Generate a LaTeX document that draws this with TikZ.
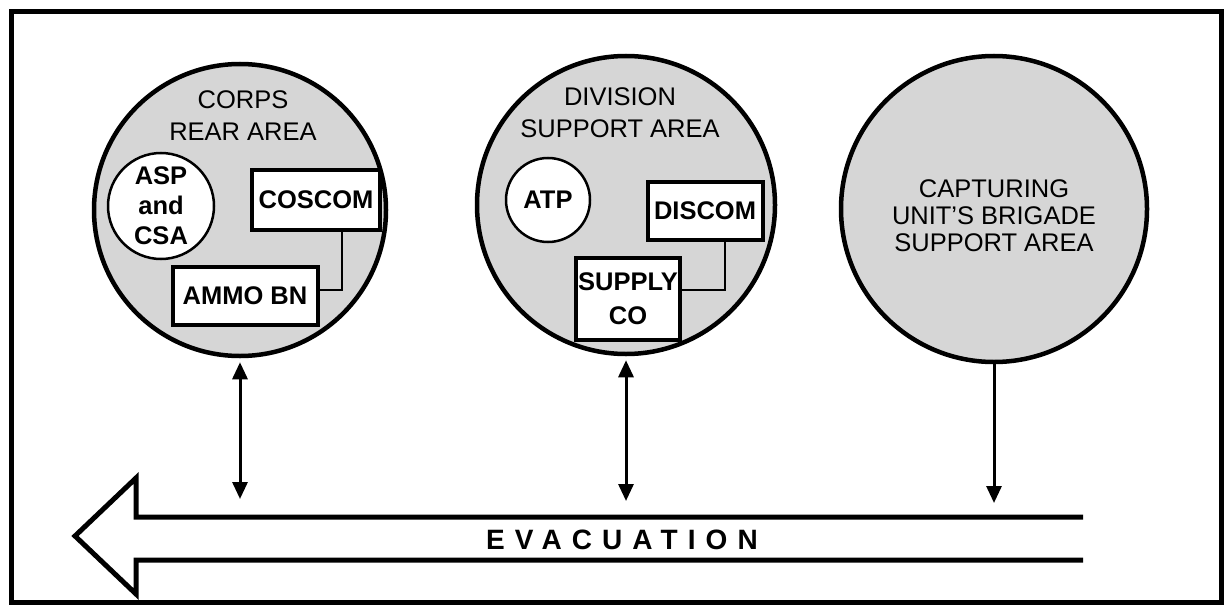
\documentclass[tikz,border=0pt]{standalone}
\usepackage{fontspec}
\setmainfont{Liberation Sans}
\usetikzlibrary{arrows.meta}

\begin{document}
\begin{tikzpicture}
  [x=1pt,y=-1pt,line join=miter,
   zone/.style={circle,draw,line width=4.5pt,fill=black!16,minimum size=#1,inner sep=0pt},
   site/.style={circle,draw,line width=2.5pt,fill=white,minimum size=#1,inner sep=0pt,align=center,
     font=\bfseries\fontsize{25.5}{30}\selectfont},
   unit/.style={draw,line width=4pt,fill=white,align=center,inner sep=0pt,
     font=\bfseries\fontsize{25.5}{34}\selectfont},
   title/.style={align=center,font=\fontsize{25.5}{32}\selectfont},
   link/.style={line width=1.5pt},
   flow/.style={line width=3pt,{Triangle[length=17pt,width=15pt]}-{Triangle[length=17pt,width=15pt]}},
   feed/.style={line width=3pt,-{Triangle[length=17pt,width=15pt]}}]
  \useasboundingbox (0,0) rectangle (1225,607);
  \draw[line width=5pt] (11,12) rectangle (1221,602);

  % the three areas
  \node[zone=292pt] (corps) at (240,210) {};
  \node[zone=298pt] (div) at (626,205) {};
  \node[zone=306pt] (bde) at (994,209) {};

  \node[title] (corpsname) at (243,116) {CORPS\\REAR AREA};
  \node[title] (divname) at (620,113) {DIVISION\\SUPPORT AREA};
  \node[title,font=\fontsize{25.5}{27}\selectfont] (bdename) at (994,216)
    {CAPTURING\\UNIT'S BRIGADE\\SUPPORT AREA};

  \node[site=106pt] (asp) at (161,206) {ASP\\and\\CSA};
  \node[site=84pt] (atp) at (548,200) {ATP};
  \node[unit,minimum width=128pt,minimum height=60pt] (coscom) at (316,200) {COSCOM};
  \node[unit,minimum width=145pt,minimum height=58pt] (ammo) at (245,296) {AMMO BN};
  \node[unit,minimum width=115pt,minimum height=58pt] (discom) at (705,211) {DISCOM};
  \node[unit,minimum width=104pt,minimum height=82pt] (supply) at (628,299) {SUPPLY\\CO};

  \draw[link] ([xshift=26pt]coscom.south) |- ([yshift=6pt]ammo.east);
  \draw[link] ([xshift=20pt]discom.south) |- ([yshift=9pt]supply.east);

  % evacuation arrow
  \draw[line width=5pt] (1083,517) -- (136,517) -- (136,478) -- (75,536)
    -- (136,594) -- (136,560) -- (1083,560);
  \node[font=\bfseries\fontsize{28}{28}\selectfont\addfontfeature{LetterSpace=36}]
    (evac) at (622,540) {EVACUATION};

  \coordinate (e1) at (240,499);
  \coordinate (e2) at (626,501);
  \coordinate (e3) at (994,503);
  \foreach \from/\to in {corps/e1, div/e2}
    \draw[flow] ([yshift=-4pt]\from.south) -- (\to);
  \draw[feed] (bde.south) -- (e3);
\end{tikzpicture}
\end{document}
